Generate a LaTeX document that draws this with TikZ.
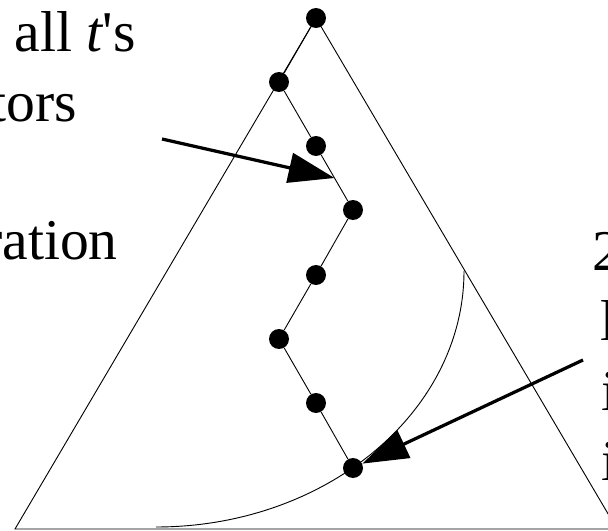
\documentclass[tikz,border=0pt]{standalone}
\usepackage{fontspec}
\setmainfont{Liberation Serif}
\usepackage{tikz}
\usetikzlibrary{
    arrows.meta,
    calc
}

\begin{document}
\begin{tikzpicture}[x=0.25mm, y=-0.25mm,
        dot/.style={circle, fill=black, inner sep=0pt, minimum size=5mm},
        edge/.style={line width=0.65pt},
        pointer/.style={line width=2.3pt, -{Triangle[length=11.5mm, width=7.5mm]}},
        txt/.style={inner sep=0pt, font=\fontsize{41}{49}\selectfont}]
        \useasboundingbox (0,0) rectangle (608,531);
        \coordinate (apex) at (316,18);
        \coordinate (left) at (15,529);
        \coordinate (right) at (617,529);
        \draw[edge] (apex) -- (left) -- (right) -- cycle;
        \coordinate (cs) at (464,271);
        \coordinate (ce) at (156,527);
        \draw[edge] (cs) .. controls (464,412) and (326,527) .. (ce);
        \node[dot] (p0) at (apex) {};
        \node[dot] (p1) at (279,82) {};
        \node[dot] (p2) at (316,146) {};
        \node[dot] (p3) at (353,210) {};
        \node[dot] (p4) at (316,275) {};
        \node[dot] (p5) at (279,339) {};
        \node[dot] (p6) at (316,403) {};
        \node[dot] (p7) at (353,468) {};
        \draw[edge] (p0) -- (p1) -- (p2) -- (p3) -- (p4) -- (p5) -- (p6) -- (p7);
        \coordinate (a1) at (162,139);
        \coordinate (a2) at (583,360);
        \draw[pointer] (a1) -- ($(p2)!0.5!(p3)$);
        \draw[pointer] (a2) -- (p7);
        \node[txt, anchor=base east] (tl1) at (136,52) {e all {\itshape t}\textquotesingle s};
        \node[txt, anchor=base east] (tl2) at (77,122) {tors};
        \node[txt, anchor=base east] (tl3) at (118,260) {ration};
        \node[txt, anchor=base west] (tr1) at (592,270) {2};
        \node[txt, anchor=base west] (tr2) at (600,340) {l};
        \node[txt, anchor=base west] (tr3) at (601,410) {i};
        \node[txt, anchor=base west] (tr4) at (601,480) {i};
    \end{tikzpicture}
\end{document}
